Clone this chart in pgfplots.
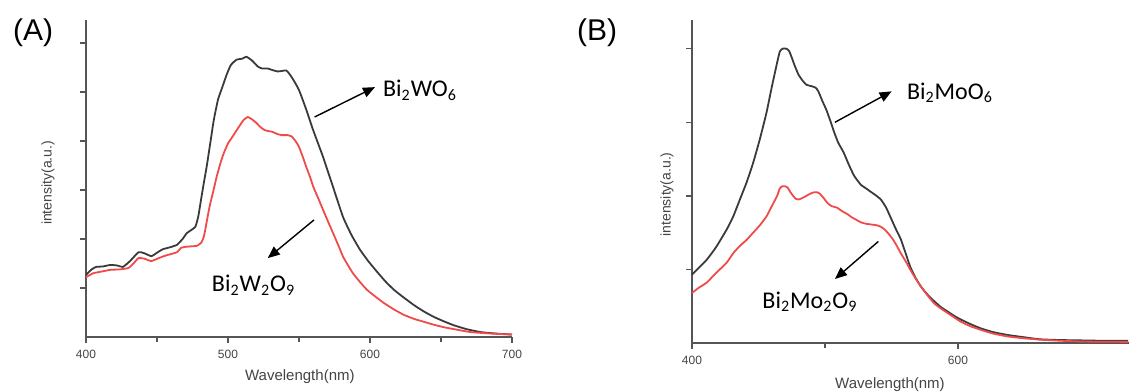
\documentclass[border=0pt]{standalone}
\usepackage{fontspec}
\setmainfont{Liberation Sans}
\newfontfamily\carlito{Carlito}
\usepackage{pgfplots}
\pgfplotsset{compat=1.18}
\usetikzlibrary{arrows.meta}
\definecolor{curveblack}{HTML}{3A3A3A}
\definecolor{curvered}{HTML}{F04A4A}
\definecolor{axisgray}{HTML}{555555}

\pgfplotstableread{
x y
400 1.27
404 1.38
407 1.43
412 1.44
417 1.47
422 1.46
426 1.43
431 1.55
437 1.73
441 1.71
446 1.65
450 1.72
454 1.79
459 1.83
464 1.88
468 2.00
471 2.12
474 2.18
477 2.25
479 2.45
481 2.80
483 3.15
485 3.48
488 4.05
490 4.43
493 4.85
496 5.10
499 5.35
502 5.55
506 5.66
510 5.68
513 5.72
517 5.64
521 5.52
524 5.48
528 5.48
531 5.45
535 5.42
538 5.43
541 5.44
543 5.38
546 5.25
550 5.04
555 4.65
560 4.22
567 3.67
574 3.06
581 2.45
587 2.08
593 1.78
599 1.54
605 1.33
611 1.13
617 0.96
624 0.80
631 0.65
638 0.52
645 0.41
652 0.32
659 0.24
668 0.16
678 0.10
689 0.07
700 0.05
}\blackA

\pgfplotstableread{
x y
400 1.22
405 1.30
410 1.33
417 1.37
424 1.38
430 1.41
434 1.52
437 1.61
441 1.60
446 1.55
452 1.62
457 1.67
464 1.73
467 1.82
470 1.84
474 1.85
478 1.86
481 1.92
483 2.05
485 2.35
487 2.66
490 3.02
492 3.27
495 3.58
497 3.75
500 3.95
503 4.08
507 4.26
511 4.43
514 4.49
517 4.44
520 4.37
523 4.28
526 4.22
529 4.20
531 4.19
535 4.14
538 4.12
542 4.12
545 4.09
548 3.98
550 3.88
553 3.65
555 3.48
558 3.25
560 3.07
564 2.80
567 2.59
571 2.32
574 2.12
578 1.85
581 1.64
585 1.44
588 1.30
593 1.12
598 0.96
604 0.82
610 0.69
617 0.56
624 0.45
631 0.37
638 0.31
645 0.25
652 0.20
661 0.15
671 0.10
685 0.07
700 0.05
}\redA

\pgfplotstableread{
x y
400 0.93
405 1.02
411 1.13
418 1.30
426 1.54
431 1.72
436 1.95
441 2.18
446 2.45
451 2.77
456 3.13
460 3.48
464 3.81
466 3.96
468 4.00
471 4.00
473 3.97
475 3.88
477 3.78
480 3.65
483 3.57
486 3.51
490 3.49
493 3.47
495 3.42
498 3.29
501 3.17
504 3.02
507 2.86
510 2.72
514 2.59
518 2.42
522 2.27
527 2.15
531 2.10
534 2.06
538 2.01
542 1.95
546 1.84
549 1.72
553 1.56
557 1.41
561 1.20
564 1.04
568 0.89
572 0.77
577 0.66
582 0.57
587 0.49
592 0.43
597 0.37
602 0.32
609 0.26
617 0.20
626 0.15
637 0.11
649 0.08
662 0.05
678 0.04
694 0.035
710 0.03
728 0.03
}\blackB

\pgfplotstableread{
x y
400 0.68
405 0.75
411 0.82
418 0.95
426 1.09
431 1.22
436 1.32
441 1.40
446 1.50
451 1.60
456 1.72
460 1.86
464 2.00
466 2.10
468 2.13
470 2.13
472 2.11
474 2.05
476 2.00
478 1.96
480 1.95
483 1.97
486 2.00
489 2.03
492 2.05
494 2.05
496 2.03
499 1.97
502 1.90
505 1.86
509 1.84
513 1.79
517 1.75
520 1.71
523 1.68
527 1.64
531 1.62
535 1.61
539 1.60
542 1.58
545 1.54
548 1.48
551 1.41
554 1.32
557 1.22
561 1.10
564 1.00
568 0.88
572 0.77
577 0.65
582 0.54
587 0.47
592 0.41
597 0.35
602 0.29
609 0.23
617 0.18
626 0.13
637 0.09
649 0.065
662 0.045
678 0.03
694 0.02
710 0.017
728 0.015
}\redB

\pgfplotsset{
  panel/.style={
    scale only axis,
    axis lines*=left,
    axis line style={-, axisgray, line width=0.9pt},
    tick style={axisgray, line width=0.7pt},
    major tick length=3pt,
    minor tick length=2.5pt,
    tick align=outside,
    yticklabels={},
    ymin=0,
    clip=false,
    /pgf/number format/assume math mode=true,
    xticklabel style={font=\fontsize{6}{7}\selectfont, text=axisgray!80!black},
  },
  blk/.style={curveblack, line width=0.9pt, no marks, smooth, tension=0.3},
  rd/.style={curvered, line width=0.9pt, no marks, smooth, tension=0.3},
}

\begin{document}
\begin{tikzpicture}
\path[use as bounding box] (0,0) rectangle (564.5pt,195.5pt);

\node[anchor=west, font=\fontsize{15}{17}\selectfont] at (3pt,179pt) {(A)};
\node[anchor=west, font=\fontsize{15}{17}\selectfont] at (285pt,179pt) {(B)};

\begin{axis}[panel,
  at={(43pt,27pt)}, anchor=south west,
  width=213pt, height=158.5pt,
  xmin=400, xmax=700, ymax=6.47,
  xtick={400,500,600,700},
  minor xtick={450,550,650},
  ytick={1,2,3,4,5,6},
]
\addplot[blk] table {\blackA};
\addplot[rd] table {\redA};
\draw[-{Triangle[length=6pt,width=5pt]}, line width=0.7pt, black] (axis cs:561,4.49) -- (axis cs:603.5,5.10);
\draw[-{Triangle[length=6pt,width=5pt]}, line width=0.7pt, black] (axis cs:560.6,2.39) -- (axis cs:528,1.61);
\node[anchor=west, inner sep=0pt, font=\carlito\fontsize{12}{14}\selectfont] at (axis cs:609,5.04) {Bi\textsubscript{2}WO\textsubscript{6}};
\node[anchor=center, font=\carlito\fontsize{12}{14}\selectfont] at (axis cs:518,1.06) {Bi\textsubscript{2}W\textsubscript{2}O\textsubscript{9}};
\node[font=\fontsize{7.5}{9}\selectfont, text=axisgray!80!black, yshift=-20pt] at (rel axis cs:0.502,0) {Wavelength(nm)};
\node[font=\fontsize{7}{8}\selectfont, text=axisgray!80!black, xshift=-19pt, rotate=90] at (rel axis cs:0,0.486) {intensity(a.u.)};
\end{axis}

\begin{axis}[panel,
  at={(346pt,24pt)}, anchor=south west,
  width=218.5pt, height=161.5pt,
  xmin=400, xmax=728.6, ymax=4.39,
  xtick={400,600},
  minor xtick={500},
  ytick={1,2,3,4},
]
\addplot[blk] table {\blackB};
\addplot[rd] table {\redB};
\draw[-{Triangle[length=6pt,width=5pt]}, line width=0.7pt, black] (axis cs:507.5,3.0) -- (axis cs:550.1,3.42);
\draw[-{Triangle[length=6pt,width=5pt]}, line width=0.7pt, black] (axis cs:540.1,1.38) -- (axis cs:507.5,0.87);
\node[anchor=west, inner sep=0pt, font=\carlito\fontsize{12}{14}\selectfont] at (axis cs:561.4,3.40) {Bi\textsubscript{2}MoO\textsubscript{6}};
\node[anchor=center, font=\carlito\fontsize{12}{14}\selectfont] at (axis cs:488.7,0.56) {Bi\textsubscript{2}Mo\textsubscript{2}O\textsubscript{9}};
\node[font=\fontsize{7.5}{9}\selectfont, text=axisgray!80!black, yshift=-21pt] at (rel axis cs:0.453,0) {Wavelength(nm)};
\node[font=\fontsize{7}{8}\selectfont, text=axisgray!80!black, xshift=-12.5pt, rotate=90] at (rel axis cs:0,0.46) {intensity(a.u.)};
\end{axis}
\end{tikzpicture}
\end{document}
